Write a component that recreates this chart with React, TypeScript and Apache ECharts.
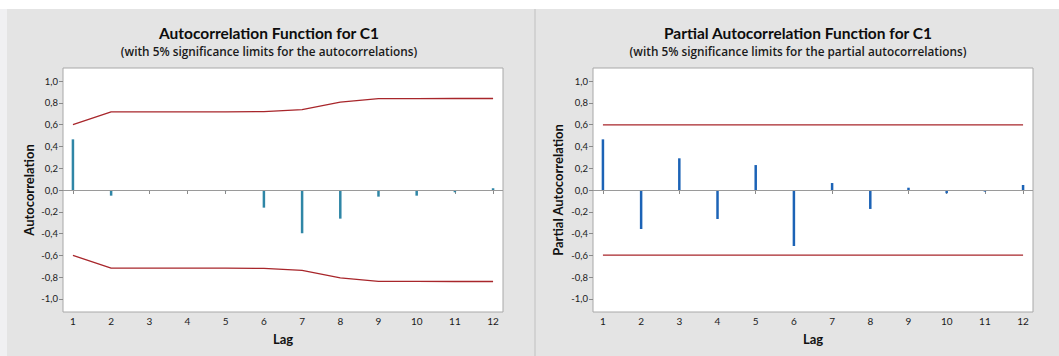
import React, { useEffect, useRef } from "react";
import * as echarts from "echarts";

const lags = [1, 2, 3, 4, 5, 6, 7, 8, 9, 10, 11, 12];
const acfValues = [0.465, -0.052, 0, 0, -0.01, -0.162, -0.397, -0.263, -0.061, -0.052, -0.021, 0.016];
const acfUpper = [0.6, 0.718, 0.718, 0.718, 0.718, 0.719, 0.737, 0.806, 0.838, 0.839, 0.84, 0.84];
const acfLower = [-0.6, -0.718, -0.718, -0.718, -0.718, -0.719, -0.737, -0.806, -0.838, -0.839, -0.84, -0.84];
const pacfValues = [0.465, -0.358, 0.291, -0.266, 0.229, -0.514, 0.064, -0.174, 0.021, -0.03, -0.015, 0.046];
const pacfUpper = [0.598, 0.598, 0.598, 0.598, 0.598, 0.598, 0.598, 0.598, 0.598, 0.598, 0.598, 0.598];
const pacfLower = [-0.598, -0.598, -0.598, -0.598, -0.598, -0.598, -0.598, -0.598, -0.598, -0.598, -0.598, -0.598];
const yTicks = [-1, -0.8, -0.6, -0.4, -0.2, 0, 0.2, 0.4, 0.6, 0.8, 1];

const titles = ["Autocorrelation Function for C1", "Partial Autocorrelation Function for C1"];
const subtitles = [
  "(with 5% significance limits for the autocorrelations)",
  "(with 5% significance limits for the partial autocorrelations)",
];
const yNames = ["Autocorrelation", "Partial Autocorrelation"];

const FONT = "Lato";
const SUBFONT = "Open Sans";

export default function App() {
  const ref = useRef<HTMLDivElement>(null);
  useEffect(() => {
    if (!ref.current) return;
    const chart = echarts.init(ref.current, null, { renderer: "svg" });
    const gridLefts = [63, 593];
    const panelCenters = [269, 798];

    const grids = gridLefts.map((l) => ({
      left: l,
      top: 68,
      width: 440,
      height: 244,
      show: true,
      backgroundColor: "#ffffff",
      borderColor: "#a8a8a8",
      borderWidth: 1,
      containLabel: false,
    }));

    const xAxes = [0, 1].map((i) => ({
      type: "value",
      gridIndex: i,
      min: 0.74,
      max: 12.26,
      name: "Lag",
      nameLocation: "middle",
      nameGap: 20,
      nameTextStyle: { fontFamily: FONT, fontWeight: "bold", fontSize: 13, color: "#111" },
      splitLine: { show: false },
      axisLine: { show: false },
      axisTick: { show: true, length: 4, customValues: lags, lineStyle: { color: "#8a8a8a" } },
      axisLabel: {
        customValues: lags,
        fontFamily: FONT,
        fontSize: 10,
        color: "#1a1a1a",
        margin: 4,
        formatter: (v: number) => String(Math.round(v)),
      },
    }));

    const yAxes = [0, 1].map((i) => ({
      type: "value",
      gridIndex: i,
      min: -1.12,
      max: 1.12,
      name: yNames[i],
      nameLocation: "middle",
      nameGap: i === 0 ? 28 : 29,
      nameRotate: 90,
      nameTextStyle: { fontFamily: FONT, fontWeight: "bold", fontSize: 13, color: "#111" },
      splitLine: { show: false },
      axisLine: { show: false },
      axisTick: { show: true, length: 4, customValues: yTicks, lineStyle: { color: "#8a8a8a" } },
      axisLabel: {
        customValues: yTicks,
        fontFamily: FONT,
        fontSize: 9.5,
        color: "#1a1a1a",
        margin: 5,
        formatter: (v: number) => v.toFixed(1).replace(".", ","),
      },
    }));

    const zeroLine = {
      silent: true,
      symbol: "none",
      label: { show: false },
      lineStyle: { color: "#9a9a9a", width: 1.2, type: "solid" },
      data: [{ yAxis: 0 }],
    };

    const series: any[] = [
      {
        type: "bar",
        xAxisIndex: 0,
        yAxisIndex: 0,
        barWidth: 2.5,
        itemStyle: { color: "#2f86a6" },
        data: lags.map((l, k) => [l, acfValues[k]]),
        markLine: zeroLine,
      },
      {
        type: "line",
        xAxisIndex: 0,
        yAxisIndex: 0,
        symbol: "none",
        lineStyle: { color: "#a8262b", width: 1.3 },
        data: lags.map((l, k) => [l, acfUpper[k]]),
      },
      {
        type: "line",
        xAxisIndex: 0,
        yAxisIndex: 0,
        symbol: "none",
        lineStyle: { color: "#a8262b", width: 1.3 },
        data: lags.map((l, k) => [l, acfLower[k]]),
      },
      {
        type: "bar",
        xAxisIndex: 1,
        yAxisIndex: 1,
        barWidth: 2.5,
        itemStyle: { color: "#1c63b6" },
        data: lags.map((l, k) => [l, pacfValues[k]]),
        markLine: zeroLine,
      },
      {
        type: "line",
        xAxisIndex: 1,
        yAxisIndex: 1,
        symbol: "none",
        lineStyle: { color: "#a8262b", width: 1.3 },
        data: lags.map((l, k) => [l, pacfUpper[k]]),
      },
      {
        type: "line",
        xAxisIndex: 1,
        yAxisIndex: 1,
        symbol: "none",
        lineStyle: { color: "#a8262b", width: 1.3 },
        data: lags.map((l, k) => [l, pacfLower[k]]),
      },
    ];

    const graphic: any[] = [
      { type: "rect", z: -10, shape: { x: 0, y: 0, width: 1059, height: 356 }, style: { fill: "#ffffff" } },
      { type: "rect", z: -9, shape: { x: 0, y: 9, width: 7, height: 347 }, style: { fill: "#f0f0f2" } },
      { type: "rect", z: -9, shape: { x: 7, y: 9, width: 527, height: 347 }, style: { fill: "#e4e4e4" } },
      { type: "rect", z: -9, shape: { x: 534, y: 9, width: 2, height: 347 }, style: { fill: "#d2d2d2" } },
      { type: "rect", z: -9, shape: { x: 536, y: 9, width: 523, height: 347 }, style: { fill: "#e4e4e4" } },
    ];
    [0, 1].forEach((i) => {
      graphic.push({
        type: "text",
        z: 5,
        x: panelCenters[i],
        y: 33,
        style: {
          text: titles[i],
          align: "center",
          verticalAlign: "middle",
          fontFamily: FONT,
          fontWeight: "bold",
          fontSize: 15.5,
          fill: "#0d0d0d",
        },
      });
      graphic.push({
        type: "text",
        z: 5,
        x: panelCenters[i],
        y: 51,
        style: {
          text: subtitles[i],
          align: "center",
          verticalAlign: "middle",
          fontFamily: SUBFONT,
          fontWeight: 600,
          fontSize: 11.8,
          fill: "#1a1a1a",
        },
      });
    });

    chart.setOption({
      animation: false,
      grid: grids,
      xAxis: xAxes,
      yAxis: yAxes,
      series,
      graphic,
    });
    return () => chart.dispose();
  }, []);
  return (
    <div
      ref={ref}
      style={{ position: "absolute", left: 0, top: 0, width: 1059, height: 356 }}
    />
  );
}
